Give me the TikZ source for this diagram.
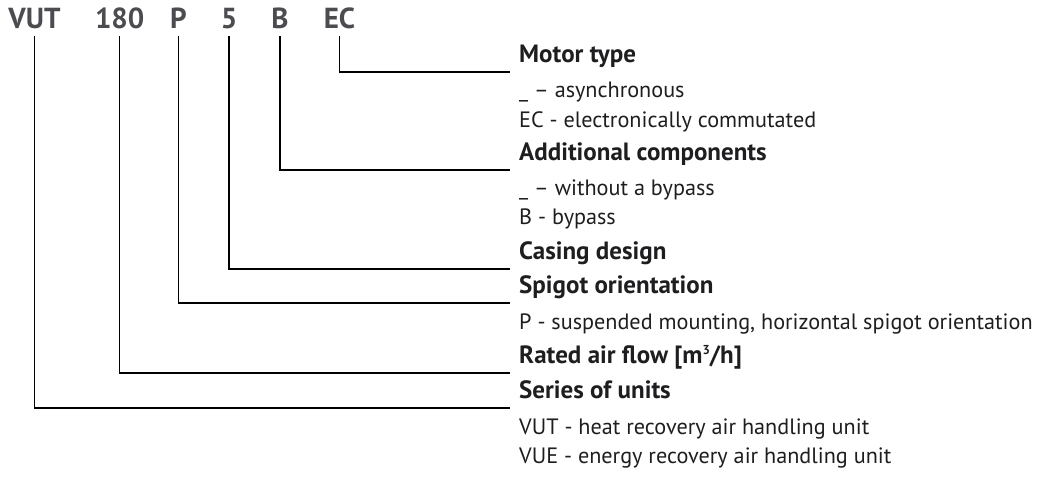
\documentclass[tikz,border=0pt]{standalone}
\usepackage{fontspec}
\setmainfont{PT Sans}
\definecolor{codegray}{RGB}{76,76,80}
\definecolor{txt}{RGB}{30,30,32}
\newcommand{\cubed}{\raisebox{0.7ex}{\fontsize{13}{13}\selectfont 3}}

\begin{document}
\begin{tikzpicture}[x=1pt,y=-1pt,
    code/.style={font=\fontsize{29}{29}\selectfont\bfseries, text=codegray,
      inner xsep=0pt, inner ysep=7.7pt, text depth=0pt, anchor=base},
    head/.style={font=\fontsize{25}{25}\selectfont\bfseries, text=txt,
      inner sep=0pt, anchor=base west},
    body/.style={font=\fontsize{22.2}{22.2}\selectfont, text=txt,
      inner sep=0pt, anchor=base west},
    lead/.style={draw=black, line width=1.2pt}]
    \useasboundingbox (0,0) rectangle (1042,479);
    % code letters
    \node[code] (vut) at (34.5,28.3) {VUT};
    \node[code] (flow) at (119.7,28.3) {180};
    \node[code] (spig) at (178.5,28.3) {P};
    \node[code] (casing) at (229,28.3) {5};
    \node[code] (addc) at (280,28.3) {B};
    \node[code] (motor) at (339.5,28.3) {EC};
    % line ends
    \coordinate (eMotor) at (510,72);
    \coordinate (eAddc) at (510,170);
    \coordinate (eCasing) at (510,269);
    \coordinate (eSpig) at (510,303);
    \coordinate (eFlow) at (510,373);
    \coordinate (eSeries) at (510,408);
    % headings
    \node[head] (hMotor) at ([shift={(9,-9.3)}]eMotor) {Motor type};
    \node[head] (hAddc) at ([shift={(9,-9.3)}]eAddc) {Additional components};
    \node[head] (hCasing) at ([shift={(9,-9.3)}]eCasing) {Casing design};
    \node[head] (hSpig) at ([shift={(9,-9.3)}]eSpig) {Spigot orientation};
    \node[head] (hFlow) at ([shift={(9,-9.3)}]eFlow) {Rated air flow [m\cubed/h]};
    \node[head] (hSeries) at ([shift={(9,-9.3)}]eSeries) {Series of units};
    % explanations
    \node[body] (tAsync) at ([yshift=-35pt]hMotor.base west) {\_ -- asynchronous};
    \node[body] (tEc) at ([yshift=-29.5pt]tAsync.base west) {EC - electronically commutated};
    \node[body] (tNoby) at ([yshift=-34.5pt]hAddc.base west) {\_ -- without a bypass};
    \node[body] (tBy) at ([yshift=-29pt]tNoby.base west) {B - bypass};
    \node[body] (tSusp) at ([yshift=-35.5pt]hSpig.base west) {P - suspended mounting, horizontal spigot orientation};
    \node[body] (tVut) at ([yshift=-36pt]hSeries.base west) {VUT - heat recovery air handling unit};
    \node[body] (tVue) at ([yshift=-28.5pt]tVut.base west) {VUE - energy recovery air handling unit};
    % leaders
    \draw[lead] (motor.south) |- (eMotor);
    \draw[lead] (addc.south) |- (eAddc);
    \draw[lead] (casing.south) |- (eCasing);
    \draw[lead] (spig.south) |- (eSpig);
    \draw[lead] (flow.south) |- (eFlow);
    \draw[lead] (vut.south) |- (eSeries);
  \end{tikzpicture}
\end{document}
